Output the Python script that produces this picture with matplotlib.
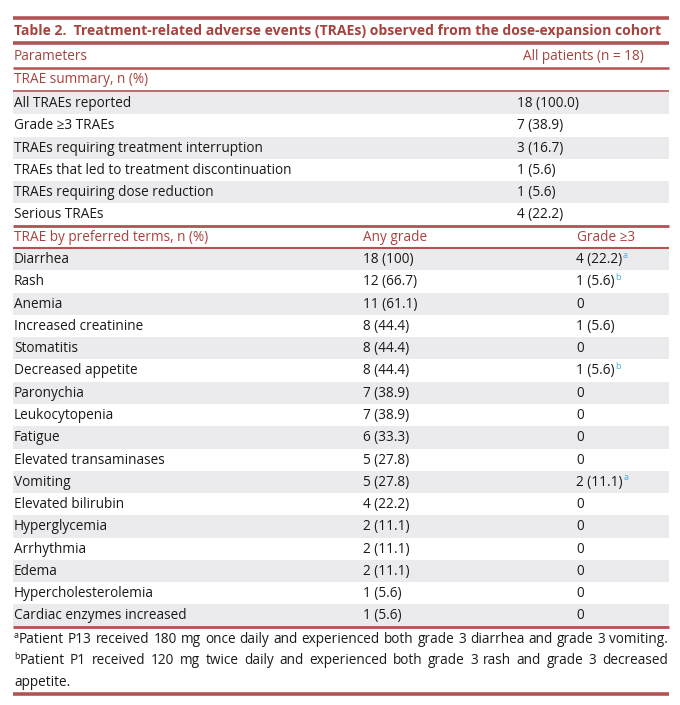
import matplotlib
matplotlib.use('Agg')
import matplotlib.pyplot as plt
from matplotlib.patches import Rectangle

# ---------------- data ----------------
title = "Table 2.  Treatment-related adverse events (TRAEs) observed from the dose-expansion cohort"
header_left = "Parameters"
header_right = "All patients (n = 18)"
summary_section = "TRAE summary, n (%)"
summary_labels = ["All TRAEs reported", "Grade \u22653 TRAEs",
                  "TRAEs requiring treatment interruption",
                  "TRAEs that led to treatment discontinuation",
                  "TRAEs requiring dose reduction", "Serious TRAEs"]
summary_values = ["18 (100.0)", "7 (38.9)", "3 (16.7)", "1 (5.6)", "1 (5.6)", "4 (22.2)"]
terms_section = "TRAE by preferred terms, n (%)"
terms_headers = ["Any grade", "Grade \u22653"]
terms = ["Diarrhea", "Rash", "Anemia", "Increased creatinine", "Stomatitis",
         "Decreased appetite", "Paronychia", "Leukocytopenia", "Fatigue",
         "Elevated transaminases", "Vomiting", "Elevated bilirubin",
         "Hyperglycemia", "Arrhythmia", "Edema", "Hypercholesterolemia",
         "Cardiac enzymes increased"]
any_grade = ["18 (100)", "12 (66.7)", "11 (61.1)", "8 (44.4)", "8 (44.4)",
             "8 (44.4)", "7 (38.9)", "7 (38.9)", "6 (33.3)", "5 (27.8)",
             "5 (27.8)", "4 (22.2)", "2 (11.1)", "2 (11.1)", "2 (11.1)",
             "1 (5.6)", "1 (5.6)"]
grade3 = ["4 (22.2)", "1 (5.6)", "0", "1 (5.6)", "0", "1 (5.6)", "0", "0", "0",
          "0", "2 (11.1)", "0", "0", "0", "0", "0", "0"]
grade3_notes = ["a", "b", "", "", "", "b", "", "", "", "", "a", "", "", "", "", "", ""]
footnotes = [("a", "Patient P13 received 180 mg once daily and experienced both grade 3 diarrhea and grade 3 vomiting."),
             ("b", "Patient P1 received 120 mg twice daily and experienced both grade 3 rash and grade 3 decreased appetite.")]

# ---------------- style ----------------
FAM = ['Open Sans', 'DejaVu Sans']
FS = 9.8
TS = 10.1
RED = '#a8423f'
LINE = '#b25353'
GRAY = '#ebebed'
CYAN = '#45b4e6'
TXT = '#1a1a1a'

L, R = 13, 669
ROW = 22.27
X_VAL = 517
X_ANY = 363
X_G3 = 576
BASE = 15.0

fig = plt.figure(figsize=(6.8, 7.05), dpi=100)
ax = fig.add_axes([0, 0, 1, 1])
ax.set_xlim(0, 680)
ax.set_ylim(705, 0)
ax.axis('off')


def hline(y, lw=2.2):
    ax.plot([L, R], [y, y], color=LINE, lw=lw, solid_capstyle='butt')


def txt(x, y, s, color=TXT, ha='left', size=FS, weight='normal'):
    return ax.text(x, y, s, color=color, ha=ha, va='baseline', fontsize=size,
                   family=FAM, fontweight=weight)


fig.canvas.draw()
renderer = fig.canvas.get_renderer()


def width(s, size=FS):
    t = ax.text(0, 0, s, fontsize=size, family=FAM)
    w = t.get_window_extent(renderer).width
    t.remove()
    return w

# title
hline(17.5, 2.6)
txt(L + 1, 35.5, title, color=RED, size=TS, weight='bold')
hline(42.5, 2.6)
# header
txt(L + 1, 60.5, header_left, color=RED)
txt(644, 60.5, header_right, color=RED, ha='right')
hline(67.5, 1.8)
txt(L + 1, 83, summary_section, color=RED)
hline(90.5, 1.2)

top = 92
for i, (lab, val) in enumerate(zip(summary_labels, summary_values)):
    y0 = top + i * ROW
    if i % 2 == 0:
        ax.add_patch(Rectangle((L, y0), R - L, ROW, color=GRAY, lw=0))
    txt(L + 1, y0 + BASE, lab)
    txt(X_VAL, y0 + BASE, val)

ysec = top + len(summary_labels) * ROW
hline(ysec, 2.0)
txt(L + 1, ysec + 15.5, terms_section, color=RED)
txt(X_ANY, ysec + 15.5, terms_headers[0], color=RED)
txt(X_G3 + 1, ysec + 15.5, terms_headers[1], color=RED)
ytop = ysec + 22.5
hline(ytop - 0.5, 1.5)

for i, (term, a, g, n) in enumerate(zip(terms, any_grade, grade3, grade3_notes)):
    y0 = ytop + i * ROW
    if i % 2 == 0:
        ax.add_patch(Rectangle((L, y0), R - L, ROW, color=GRAY, lw=0))
    txt(L + 1, y0 + BASE, term)
    txt(X_ANY, y0 + BASE, a)
    txt(X_G3, y0 + BASE, g)
    if n:
        w = width(g)
        txt(X_G3 + w + 0.5, y0 + BASE - 5.5, n, color=CYAN, size=6.5)

yend = ytop + len(terms) * ROW
hline(yend + 0.5, 2.0)

# footnotes, justified
avail = R - L - 1
yb = yend + 16
line_h = 21.5
space_w = width(' ')
for mark, note in footnotes:
    mw = width(mark, 6.5)
    words = note.split(' ')
    lines = []
    cur = []
    curw = mw
    for w_ in words:
        ww = width(w_)
        add = ww if not cur else space_w + ww
        if cur and curw + add > avail + 2:
            lines.append(cur)
            cur = [w_]
            curw = ww
        else:
            cur.append(w_)
            curw += add
    lines.append(cur)
    for li, lw_ in enumerate(lines):
        x = L + 1
        if li == 0:
            txt(x, yb - 5, mark, size=6.5)
            x += mw
        widths = [width(w_) for w_ in lw_]
        natural = x + sum(widths) + space_w * (len(lw_) - 1)
        last = li == len(lines) - 1
        fill = (natural - L) / avail
        if len(lw_) == 1 or (last and fill < 0.95):
            gap = space_w
        else:
            gap = (L + avail - x - sum(widths)) / (len(lw_) - 1)
        for w_, ww in zip(lw_, widths):
            txt(x, yb, w_)
            x += ww + gap
        yb += line_h

hline(693.5, 2.6)

fig.savefig('out.png', dpi=100)
